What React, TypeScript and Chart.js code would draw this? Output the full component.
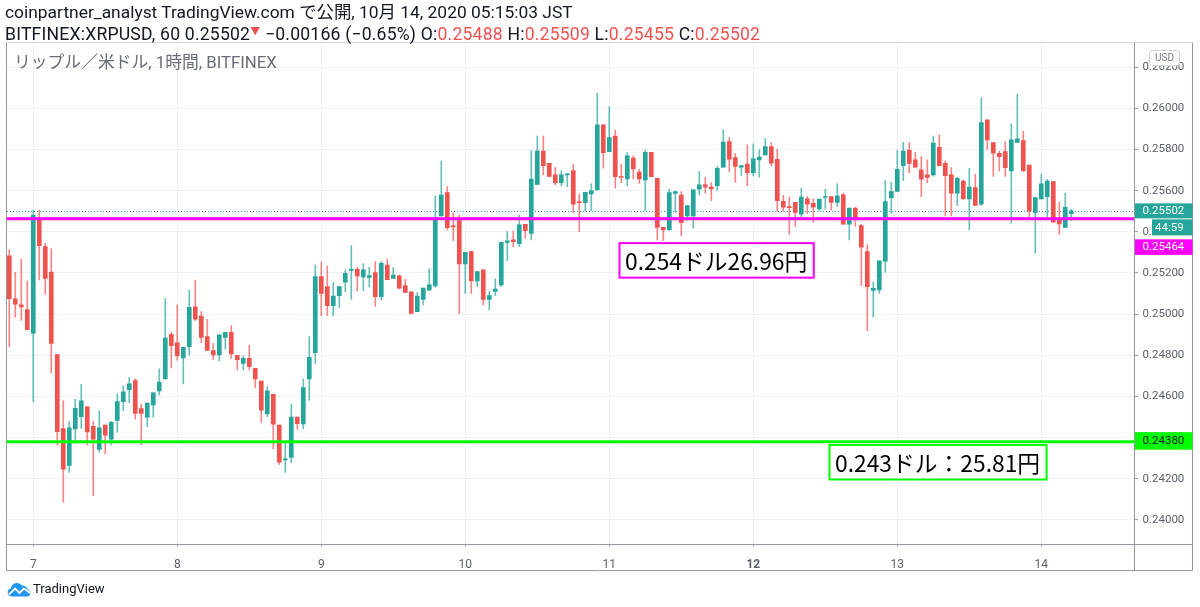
import React, { useEffect, useRef } from 'react';
import { Chart, registerables } from 'chart.js';

Chart.register(...registerables);

// ---------- data ----------
const startHour = -4; // first candle = Oct 6, 20:00 (hours counted from Oct 7, 00:00)

const opens = [
  0.25284, 0.25074, 0.25045, 0.25022, 0.24907, 0.25463, 0.25328, 0.25205, 0.24803, 0.24444,
  0.24265, 0.24442, 0.24502, 0.24549, 0.24455, 0.24342, 0.24461, 0.24392, 0.24483, 0.24575,
  0.24633, 0.24677, 0.24541, 0.24499, 0.24559, 0.24627, 0.24685, 0.24902, 0.24860, 0.24787,
  0.24842, 0.25036, 0.24991, 0.24891, 0.24823, 0.24802, 0.24887, 0.24912, 0.24800, 0.24761,
  0.24785, 0.24737, 0.24675, 0.24515, 0.24610, 0.24461, 0.24291, 0.24303, 0.24500, 0.24466,
  0.24685, 0.24813, 0.25182, 0.25134, 0.25041, 0.25090, 0.25155, 0.25212, 0.25218, 0.25181,
  0.25179, 0.25202, 0.25085, 0.25239, 0.25173, 0.25186, 0.25139, 0.25108, 0.25012, 0.25072,
  0.25118, 0.25137, 0.25477, 0.25591, 0.25429, 0.25455, 0.25244, 0.25304, 0.25161, 0.25215,
  0.25072, 0.25110, 0.25142, 0.25348, 0.25361, 0.25343, 0.25437, 0.25392, 0.25631, 0.25793,
  0.25733, 0.25677, 0.25639, 0.25677, 0.25698, 0.25547, 0.25542, 0.25584, 0.25604, 0.25920,
  0.25790, 0.25866, 0.25668, 0.25657, 0.25758, 0.25690, 0.25652, 0.25787, 0.25660, 0.25422,
  0.25409, 0.25587, 0.25579, 0.25478, 0.25478, 0.25607, 0.25628, 0.25617, 0.25625, 0.25714,
  0.25839, 0.25761, 0.25714, 0.25729, 0.25688, 0.25750, 0.25774, 0.25815, 0.25753, 0.25548,
  0.25523, 0.25544, 0.25486, 0.25560, 0.25539, 0.25512, 0.25567, 0.25572, 0.25543, 0.25580,
  0.25437, 0.25515, 0.25431, 0.25304, 0.25115, 0.25118, 0.25257, 0.25566, 0.25596, 0.25722,
  0.25798, 0.25750, 0.25701, 0.25677, 0.25677, 0.25811, 0.25733, 0.25677, 0.25588, 0.25647,
  0.25560, 0.25615, 0.25534, 0.25944, 0.25834, 0.25782, 0.25790, 0.25696, 0.25835, 0.25844,
  0.25725, 0.25494, 0.25560, 0.25571, 0.25644, 0.25466, 0.25422, 0.25488,
];

const highs = [
  0.25312, 0.25203, 0.25268, 0.25161, 0.25506, 0.25506, 0.25344, 0.25318, 0.24803, 0.24578,
  0.24478, 0.24586, 0.24659, 0.24549, 0.24478, 0.24530, 0.24461, 0.24478, 0.24612, 0.24651,
  0.24691, 0.24685, 0.24562, 0.24568, 0.24617, 0.24734, 0.25075, 0.24912, 0.25045, 0.24839,
  0.25117, 0.25166, 0.25012, 0.24975, 0.24858, 0.24899, 0.24912, 0.24944, 0.24800, 0.24797,
  0.24848, 0.24737, 0.24675, 0.24646, 0.24610, 0.24461, 0.24372, 0.24563, 0.24500, 0.24685,
  0.24891, 0.25239, 0.25253, 0.25234, 0.25155, 0.25134, 0.25215, 0.25333, 0.25228, 0.25244,
  0.25228, 0.25255, 0.25255, 0.25268, 0.25226, 0.25190, 0.25169, 0.25108, 0.25105, 0.25127,
  0.25220, 0.25574, 0.25744, 0.25620, 0.25493, 0.25482, 0.25301, 0.25304, 0.25207, 0.25215,
  0.25110, 0.25171, 0.25349, 0.25401, 0.25404, 0.25482, 0.25437, 0.25795, 0.25866, 0.25866,
  0.25733, 0.25714, 0.25696, 0.25682, 0.25728, 0.25583, 0.25592, 0.25633, 0.26073, 0.25920,
  0.26009, 0.25895, 0.25730, 0.25785, 0.25769, 0.25704, 0.25798, 0.25787, 0.25660, 0.25422,
  0.25607, 0.25599, 0.25596, 0.25528, 0.25607, 0.25693, 0.25666, 0.25640, 0.25718, 0.25896,
  0.25858, 0.25782, 0.25722, 0.25823, 0.25828, 0.25799, 0.25855, 0.25834, 0.25802, 0.25577,
  0.25569, 0.25544, 0.25612, 0.25572, 0.25560, 0.25559, 0.25607, 0.25572, 0.25633, 0.25588,
  0.25515, 0.25518, 0.25437, 0.25337, 0.25156, 0.25259, 0.25649, 0.25641, 0.25795, 0.25835,
  0.25835, 0.25787, 0.25766, 0.25750, 0.25866, 0.25871, 0.25745, 0.25712, 0.25665, 0.25652,
  0.25709, 0.25680, 0.26052, 0.25944, 0.25834, 0.25793, 0.25839, 0.25925, 0.26069, 0.25890,
  0.25725, 0.25566, 0.25681, 0.25655, 0.25644, 0.25544, 0.25587, 0.25509,
];

const lows = [
  0.24842, 0.24985, 0.24969, 0.24925, 0.24575, 0.25166, 0.25098, 0.24713, 0.24364, 0.24086,
  0.24230, 0.24372, 0.24444, 0.24364, 0.24118, 0.24329, 0.24321, 0.24364, 0.24426, 0.24531,
  0.24570, 0.24489, 0.24364, 0.24453, 0.24499, 0.24607, 0.24685, 0.24738, 0.24776, 0.24661,
  0.24801, 0.24968, 0.24861, 0.24823, 0.24780, 0.24772, 0.24831, 0.24785, 0.24729, 0.24729,
  0.24729, 0.24641, 0.24473, 0.24502, 0.24345, 0.24270, 0.24231, 0.24278, 0.24440, 0.24442,
  0.24580, 0.24761, 0.24993, 0.24993, 0.24993, 0.25032, 0.25109, 0.25072, 0.25114, 0.25114,
  0.25131, 0.25037, 0.25069, 0.25168, 0.25173, 0.25122, 0.25106, 0.25001, 0.25012, 0.25045,
  0.25114, 0.25131, 0.25477, 0.25409, 0.25357, 0.25004, 0.25101, 0.25101, 0.25134, 0.25045,
  0.25020, 0.25090, 0.25134, 0.25260, 0.25328, 0.25328, 0.25369, 0.25361, 0.25631, 0.25677,
  0.25669, 0.25628, 0.25625, 0.25620, 0.25495, 0.25401, 0.25502, 0.25502, 0.25604, 0.25709,
  0.25790, 0.25612, 0.25639, 0.25623, 0.25657, 0.25636, 0.25503, 0.25668, 0.25361, 0.25357,
  0.25409, 0.25494, 0.25382, 0.25458, 0.25418, 0.25580, 0.25588, 0.25552, 0.25601, 0.25714,
  0.25693, 0.25640, 0.25674, 0.25624, 0.25672, 0.25666, 0.25774, 0.25721, 0.25499, 0.25499,
  0.25389, 0.25426, 0.25475, 0.25488, 0.25447, 0.25504, 0.25512, 0.25507, 0.25523, 0.25437,
  0.25361, 0.25426, 0.25138, 0.24920, 0.24987, 0.25101, 0.25204, 0.25490, 0.25596, 0.25649,
  0.25688, 0.25714, 0.25571, 0.25639, 0.25669, 0.25722, 0.25477, 0.25477, 0.25528, 0.25560,
  0.25409, 0.25528, 0.25528, 0.25801, 0.25669, 0.25696, 0.25669, 0.25442, 0.25835, 0.25696,
  0.25474, 0.25296, 0.25560, 0.25471, 0.25447, 0.25388, 0.25422, 0.25455,
];

const closes = [
  0.25075, 0.25048, 0.25035, 0.24925, 0.25480, 0.25333, 0.25173, 0.24858, 0.24429, 0.24246,
  0.24447, 0.24542, 0.24578, 0.24427, 0.24392, 0.24447, 0.24411, 0.24474, 0.24575, 0.24622,
  0.24661, 0.24517, 0.24517, 0.24568, 0.24617, 0.24670, 0.24884, 0.24847, 0.24798, 0.24839,
  0.25033, 0.24975, 0.24887, 0.24823, 0.24802, 0.24899, 0.24912, 0.24806, 0.24779, 0.24785,
  0.24745, 0.24685, 0.24533, 0.24627, 0.24465, 0.24280, 0.24296, 0.24500, 0.24468, 0.24643,
  0.24790, 0.25182, 0.25101, 0.25041, 0.25088, 0.25134, 0.25198, 0.25218, 0.25186, 0.25215,
  0.25187, 0.25085, 0.25247, 0.25168, 0.25190, 0.25126, 0.25106, 0.25004, 0.25088, 0.25127,
  0.25142, 0.25461, 0.25579, 0.25420, 0.25424, 0.25244, 0.25301, 0.25161, 0.25207, 0.25072,
  0.25090, 0.25122, 0.25349, 0.25356, 0.25352, 0.25434, 0.25406, 0.25656, 0.25793, 0.25722,
  0.25669, 0.25639, 0.25677, 0.25682, 0.25534, 0.25542, 0.25592, 0.25600, 0.25920, 0.25785,
  0.25858, 0.25668, 0.25664, 0.25769, 0.25706, 0.25657, 0.25787, 0.25668, 0.25421, 0.25409,
  0.25591, 0.25596, 0.25445, 0.25528, 0.25604, 0.25628, 0.25617, 0.25609, 0.25709, 0.25836,
  0.25753, 0.25718, 0.25722, 0.25688, 0.25755, 0.25763, 0.25815, 0.25734, 0.25552, 0.25520,
  0.25518, 0.25494, 0.25569, 0.25534, 0.25520, 0.25559, 0.25572, 0.25543, 0.25575, 0.25437,
  0.25515, 0.25471, 0.25326, 0.25134, 0.25126, 0.25259, 0.25547, 0.25596, 0.25704, 0.25793,
  0.25733, 0.25714, 0.25656, 0.25664, 0.25831, 0.25722, 0.25673, 0.25588, 0.25660, 0.25560,
  0.25617, 0.25528, 0.25931, 0.25847, 0.25782, 0.25766, 0.25712, 0.25847, 0.25852, 0.25696,
  0.25502, 0.25566, 0.25633, 0.25647, 0.25447, 0.25438, 0.25519, 0.25502,
];

const dayTicks = [0, 24, 48, 72, 96, 120, 144, 168];
const dayLabels = ['7', '8', '9', '10', '11', '12', '13', '14'];
const priceTicks = [0.240, 0.242, 0.244, 0.246, 0.248, 0.250, 0.252, 0.254, 0.256, 0.258, 0.260, 0.262];

const lastPrice = 0.25502;
const countdownText = '44:59';
const magentaLevel = 0.25464;
const greenLevel = 0.2438;
const noteTexts = ['0.254ドル26.96円', '0.243ドル：25.81円'];
const noteHours = [97.7, 132.7];
const notePrices = [0.25345, 0.24364];

const headerLine1 = 'coinpartner_analyst TradingView.com で公開, 10月 14, 2020 05:15:03 JST';
const symbolText = 'BITFINEX:XRPUSD, 60 0.25502';
const changeText = ' −0.00166 (−0.65%) ';
const ohlcLabels = ['O:', 'H:', 'L:', 'C:'];
const ohlcValues = ['0.25488', '0.25509', '0.25455', '0.25502'];
const legendText = 'リップル／米ドル, 1時間, BITFINEX';

// ---------- view range ----------
const xMin = -4.38;
const xMax = 183.45;
const yMin = 0.23885;
const yMax = 0.26318;

// ---------- styles ----------
const UP = '#26a69a';
const DOWN = '#ef5350';
const UP_WICK = 'rgba(38,166,154,0.7)';
const DOWN_WICK = 'rgba(239,83,80,0.7)';
const GRID = '#eef1f7';
const AXIS_TEXT = '#5d606b';
const FRAME = '#9598a1';
const FONT = "Roboto, 'Noto Sans CJK JP', sans-serif";
const JP_FONT = "'Noto Sans CJK JP', sans-serif";

const overlayPlugin = {
  id: 'tvOverlay',
  beforeDatasetsDraw(chart: any) {
    const { ctx, chartArea: a, scales } = chart;
    ctx.save();
    // vertical day grid lines + tick marks
    ctx.lineWidth = 1;
    dayTicks.forEach((v) => {
      const px = Math.round(scales.x.getPixelForValue(v)) + 0.5;
      ctx.strokeStyle = GRID;
      ctx.beginPath();
      ctx.moveTo(px, a.top);
      ctx.lineTo(px, a.bottom);
      ctx.stroke();
      ctx.strokeStyle = FRAME;
      ctx.beginPath();
      ctx.moveTo(px, a.bottom);
      ctx.lineTo(px, a.bottom + 3);
      ctx.stroke();
    });
    // dotted last-price line
    const py = Math.round(scales.y.getPixelForValue(lastPrice)) + 0.5;
    ctx.strokeStyle = UP;
    ctx.setLineDash([1, 2]);
    ctx.beginPath();
    ctx.moveTo(a.left, py);
    ctx.lineTo(a.right, py);
    ctx.stroke();
    ctx.restore();
  },
  afterDatasetsDraw(chart: any) {
    const { ctx, chartArea: a, scales } = chart;
    const x = scales.x;
    const y = scales.y;
    ctx.save();
    // horizontal levels
    const lv = [
      { v: magentaLevel, c: '#ff00ff' },
      { v: greenLevel, c: '#00ff00' },
    ];
    lv.forEach((l) => {
      const py = y.getPixelForValue(l.v);
      ctx.strokeStyle = l.c;
      ctx.lineWidth = 3;
      ctx.beginPath();
      ctx.moveTo(a.left, py);
      ctx.lineTo(a.right, py);
      ctx.stroke();
    });
    // note boxes
    const colors = ['#ff00ff', '#00ff00'];
    ctx.font = `22.8px ${JP_FONT}`;
    noteTexts.forEach((t, i) => {
      const bx = x.getPixelForValue(noteHours[i]);
      const by = y.getPixelForValue(notePrices[i]);
      const tw = ctx.measureText(t).width;
      const bw = tw + 12;
      const bh = 34.5;
      ctx.fillStyle = '#ffffff';
      ctx.fillRect(bx, by, bw, bh);
      ctx.strokeStyle = colors[i];
      ctx.lineWidth = 2;
      ctx.strokeRect(bx, by, bw, bh);
      ctx.fillStyle = '#000000';
      ctx.textBaseline = 'middle';
      ctx.textAlign = 'left';
      ctx.fillText(t, bx + 5.5, by + bh / 2 + 1);
    });
    ctx.restore();
  },
  afterDraw(chart: any) {
    const { ctx, chartArea: a, scales } = chart;
    const y = scales.y;
    const W = chart.width;
    const right = W - 7.5;
    const bottom = 570.5;
    ctx.save();
    // frame
    ctx.lineWidth = 1;
    ctx.strokeStyle = '#d6d9e0';
    ctx.beginPath();
    ctx.moveTo(6.5, 42.5);
    ctx.lineTo(right, 42.5);
    ctx.stroke();
    ctx.strokeStyle = FRAME;
    ctx.beginPath();
    ctx.moveTo(6.5, 42.5);
    ctx.lineTo(6.5, bottom);
    ctx.lineTo(right, bottom);
    ctx.lineTo(right, 42.5);
    ctx.stroke();
    // separators
    ctx.beginPath();
    ctx.moveTo(Math.round(a.right) + 0.5, 42.5);
    ctx.lineTo(Math.round(a.right) + 0.5, bottom);
    ctx.moveTo(6.5, Math.round(a.bottom) + 0.5);
    ctx.lineTo(right, Math.round(a.bottom) + 0.5);
    ctx.stroke();

    // price labels on the axis
    const lx = Math.round(a.right) + 1;
    const textX = a.right + 8.5;
    ctx.font = `11.5px ${FONT}`;
    ctx.textBaseline = 'middle';
    ctx.textAlign = 'left';
    const drawLabel = (top: number, h: number, bg: string, fg: string, text: string, x0 = lx, tx = textX) => {
      ctx.fillStyle = bg;
      ctx.fillRect(x0, top, right - x0, h);
      ctx.fillStyle = fg;
      ctx.fillText(text, tx, top + h / 2 + 0.5);
    };
    const lastY = y.getPixelForValue(lastPrice);
    const lastTop = lastY - 7.5;
    drawLabel(lastTop, 15, UP, '#ffffff', lastPrice.toFixed(5));
    const cdTop = lastTop + 16;
    drawLabel(cdTop, 16, UP, '#ffffff', countdownText, 1152, 1155);
    const magY = y.getPixelForValue(magentaLevel);
    const magTop = Math.max(magY - 7.5, cdTop + 16 + 4);
    drawLabel(magTop, 15.5, '#ff00ff', '#ffffff', magentaLevel.toFixed(5));
    const grY = y.getPixelForValue(greenLevel);
    drawLabel(grY - 9.5, 17.5, '#00ff00', '#131722', greenLevel.toFixed(5));

    // currency badge
    const ux = 1149.5, uy = 50.5, uw = 30, uh = 15;
    ctx.beginPath();
    const r = 3;
    ctx.moveTo(ux + r, uy);
    ctx.lineTo(ux + uw - r, uy);
    ctx.quadraticCurveTo(ux + uw, uy, ux + uw, uy + r);
    ctx.lineTo(ux + uw, uy + uh - r);
    ctx.quadraticCurveTo(ux + uw, uy + uh, ux + uw - r, uy + uh);
    ctx.lineTo(ux + r, uy + uh);
    ctx.quadraticCurveTo(ux, uy + uh, ux, uy + uh - r);
    ctx.lineTo(ux, uy + r);
    ctx.quadraticCurveTo(ux, uy, ux + r, uy);
    ctx.closePath();
    ctx.fillStyle = '#ffffff';
    ctx.fill();
    ctx.strokeStyle = '#d1d4dc';
    ctx.stroke();
    ctx.fillStyle = '#787b86';
    ctx.font = `10px ${FONT}`;
    ctx.textAlign = 'center';
    ctx.fillText('USD', ux + uw / 2, uy + uh / 2 + 0.5);
    ctx.restore();
  },
};

export default function App() {
  const ref = useRef<HTMLCanvasElement>(null);

  useEffect(() => {
    if (!ref.current) return;
    const xs = opens.map((_, i) => startHour + i);
    const bodyColors = opens.map((o, i) => (closes[i] >= o ? UP : DOWN));
    const wickColors = opens.map((o, i) => (closes[i] >= o ? UP_WICK : DOWN_WICK));
    const chart = new Chart(ref.current, {
      type: 'bar',
      data: {
        datasets: [
          {
            label: 'body',
            data: xs.map((x, i) => ({ x, y: [opens[i], closes[i]] })) as any,
            backgroundColor: bodyColors,
            borderWidth: 0,
            barThickness: 4,
            minBarLength: 1,
            grouped: false,
          } as any,
          {
            label: 'wick',
            data: xs.map((x, i) => ({ x, y: [lows[i], highs[i]] })) as any,
            backgroundColor: wickColors,
            borderWidth: 0,
            barThickness: 1,
            grouped: false,
          } as any,
        ],
      },
      options: {
        responsive: false,
        animation: false,
        events: [],
        layout: { padding: { left: 7, top: 43, right: 8, bottom: 36.5 } },
        plugins: { legend: { display: false }, tooltip: { enabled: false } },
        scales: {
          x: {
            type: 'linear',
            min: xMin,
            max: xMax,
            offset: false,
            afterBuildTicks: (s: any) => {
              s.ticks = dayTicks.map((v) => ({ value: v }));
            },
            afterFit: (s: any) => {
              s.height = 27;
            },
            grid: { display: false },
            border: { display: false },
            ticks: {
              autoSkip: false,
              maxRotation: 0,
              padding: 6,
              color: AXIS_TEXT,
              font: (c: any) => ({ family: FONT, size: 12, weight: c.index === 5 ? 'bold' : 'normal' }),
              callback: (_v: any, i: number) => dayLabels[i],
            },
          },
          y: {
            type: 'linear',
            position: 'right',
            min: yMin,
            max: yMax,
            afterBuildTicks: (s: any) => {
              s.ticks = priceTicks.map((v) => ({ value: v }));
            },
            afterFit: (s: any) => {
              s.width = 58;
            },
            grid: { offset: false, color: GRID, lineWidth: 1, drawTicks: true, tickLength: 4, tickColor: FRAME },
            border: { display: false },
            ticks: {
              padding: 4.5,
              color: AXIS_TEXT,
              font: { family: FONT, size: 11.5 },
              callback: (v: any) => Number(v).toFixed(5),
            },
          },
        },
      } as any,
      plugins: [overlayPlugin],
    });
    return () => chart.destroy();
  }, []);

  return (
    <div
      style={{
        position: 'absolute',
        left: 0,
        top: 0,
        width: 1200,
        height: 607,
        background: '#ffffff',
        overflow: 'hidden',
        fontFamily: FONT,
      }}
    >
      <canvas
        ref={ref}
        width={1200}
        height={607}
        style={{ position: 'absolute', left: 0, top: 0, width: 1200, height: 607 }}
      />
      <div style={{ position: 'absolute', left: 5, top: 2, fontSize: 17.4, lineHeight: '20px', color: '#131722', whiteSpace: 'nowrap' }}>
        {headerLine1}
      </div>
      <div style={{ position: 'absolute', left: 5, top: 22, fontSize: 17.6, letterSpacing: '0.2px', lineHeight: '20px', color: '#131722', whiteSpace: 'nowrap' }}>
        {symbolText}
        <span style={{ color: DOWN, fontSize: 10, verticalAlign: '5px' }}>▼</span>
        {changeText}
        {ohlcLabels.map((l, i) => (
          <span key={l}>
            {l}
            <span style={{ color: DOWN }}>{ohlcValues[i]}</span>
            {i < ohlcLabels.length - 1 ? ' ' : ''}
          </span>
        ))}
      </div>
      <div style={{ position: 'absolute', left: 14, top: 52, fontSize: 16.8, lineHeight: '20px', color: '#6a6d78', whiteSpace: 'nowrap' }}>
        {legendText}
      </div>
      <div style={{ position: 'absolute', left: 7, top: 580, height: 17, display: 'flex', alignItems: 'center' }}>
        <svg width="24" height="16" viewBox="0 0 24 16">
          <path
            d="M4.5 15.5 A4 4 0 0 1 3.8 7.6 A6.2 6.2 0 0 1 15 4.6 A5 5 0 0 1 20.6 8.6 A3.5 3.5 0 0 1 20.2 15.5 Z"
            fill="#2196f3"
          />
          <polyline points="2,13.5 8,7.5 12.5,12 17,7.5 23,12" stroke="#ffffff" strokeWidth="1.8" fill="none" />
        </svg>
        <span style={{ marginLeft: 2, fontSize: 13, color: '#131722' }}>TradingView</span>
      </div>
    </div>
  );
}
